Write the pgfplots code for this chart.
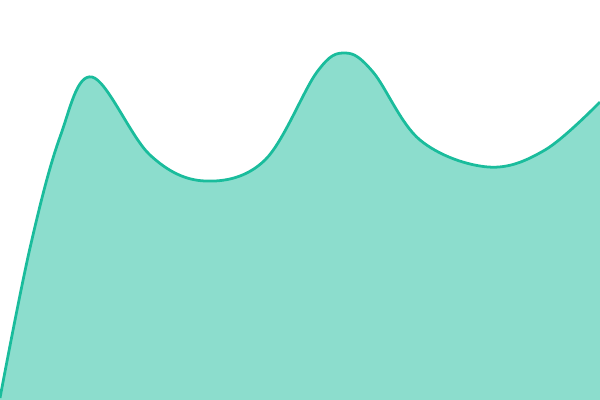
\documentclass[border=0pt]{standalone}
\usepackage{pgfplots}
\pgfplotsset{compat=1.18}
\definecolor{teal1}{HTML}{1ABC9C}
\pgfplotstableread{
x y
0 2
30 152
60 263
92 323
150 245
205 219
265 240
317 328
345 347
373 328
420 260
488 233
545 250
600 298
}\curve
\begin{document}
\begin{tikzpicture}
\begin{axis}[
    width=6in, height=4in,
    scale only axis,
    hide axis,
    xmin=0, xmax=600,
    ymin=0, ymax=400,
    clip=true,
]
% y = 400 - pixel row
\addplot[draw=none, fill=teal1, fill opacity=0.5, smooth, tension=0.6] table {\curve} \closedcycle;
\addplot[draw=teal1, line width=2pt, smooth, tension=0.6] table {\curve};
\end{axis}
\pgfresetboundingbox
\path (0,0) rectangle (6in,4in);
\end{tikzpicture}
\end{document}
